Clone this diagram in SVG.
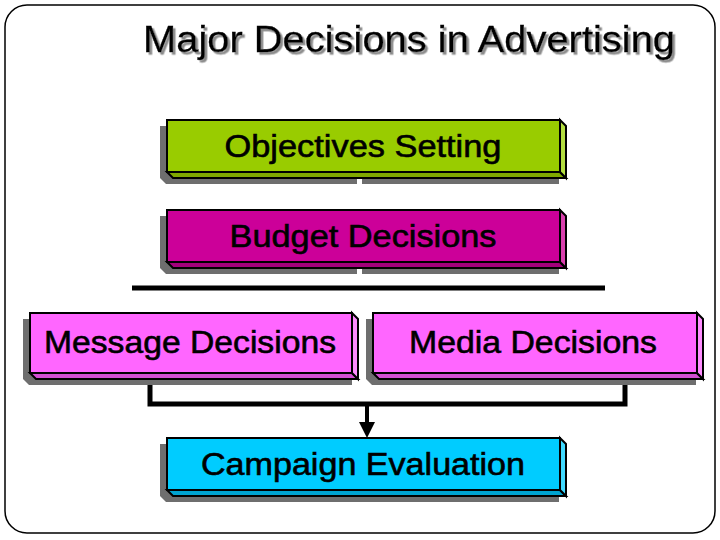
<svg xmlns="http://www.w3.org/2000/svg" width="720" height="540" viewBox="0 0 720 540">
<style>
.t{font-family:"Liberation Sans",Arial,sans-serif;fill:#000;text-anchor:middle;stroke:#000;stroke-width:0.6;lengthAdjust:spacingAndGlyphs}
.sh{fill:#6e6e6e}
.f{stroke:#000;stroke-width:2;stroke-linejoin:miter}
.gap{fill:#fff}
</style>
<defs>
<filter id="ds" x="-5%" y="-20%" width="110%" height="150%">
<feDropShadow dx="2.5" dy="2.5" stdDeviation="0.6" flood-color="#8c8c8c" flood-opacity="1"/>
</filter>
</defs>
<rect x="5" y="5" width="710" height="528" rx="22" fill="#fff" stroke="#000" stroke-width="1.5"/>
<g id="title">
<text class="t" x="409" y="52" font-size="36" textLength="532" lengthAdjust="spacingAndGlyphs" filter="url(#ds)" style="stroke-width:0.3">Major Decisions in Advertising</text>
</g>
<g id="objectives">
<polygon class="sh" points="160,126 553,126 559,132 559,184 166,184 160,178"/>
<rect class="gap" x="357" y="179" width="5" height="6"/>
<rect class="f" x="167" y="120" width="393" height="52" fill="#99CC00"/>
<polygon class="f" points="167,172 560,172 566,178 173,178" fill="#7fa800"/>
<polygon class="f" points="560,120 566,126 566,178 560,172" fill="#b3dd40"/>
<text class="t" x="363" y="157" font-size="31" textLength="277" lengthAdjust="spacingAndGlyphs">Objectives Setting</text>
</g>
<g id="budget">
<polygon class="sh" points="160,216 553,216 559,222 559,274 166,274 160,268"/>
<rect class="gap" x="357" y="269" width="5" height="6"/>
<rect class="f" x="167" y="210" width="393" height="52" fill="#CC0099"/>
<polygon class="f" points="167,262 560,262 566,268 173,268" fill="#a3007a"/>
<polygon class="f" points="560,210 566,216 566,268 560,262" fill="#d940ad"/>
<text class="t" x="363" y="247" font-size="31" textLength="267" lengthAdjust="spacingAndGlyphs">Budget Decisions</text>
</g>
<g id="message">
<polygon class="sh" points="23,319 346,319 352,325 352,385 29,385 23,379"/>
<rect class="f" x="30" y="313" width="322" height="60" fill="#FF66FF"/>
<polygon class="f" points="30,373 352,373 358,379 36,379" fill="#d24fd2"/>
<polygon class="f" points="352,313 358,319 358,379 352,373" fill="#ff8cff"/>
<text class="t" x="190" y="353" font-size="31" textLength="292" lengthAdjust="spacingAndGlyphs">Message Decisions</text>
</g>
<g id="media">
<polygon class="sh" points="366,319 690,319 696,325 696,385 372,385 366,379"/>
<rect class="f" x="373" y="313" width="324" height="60" fill="#FF66FF"/>
<polygon class="f" points="373,373 697,373 703,379 379,379" fill="#d24fd2"/>
<polygon class="f" points="697,313 703,319 703,379 697,373" fill="#ff8cff"/>
<text class="t" x="533" y="353" font-size="31" textLength="248" lengthAdjust="spacingAndGlyphs">Media Decisions</text>
</g>
<g id="campaign">
<polygon class="sh" points="160,444 553,444 559,450 559,502 166,502 160,496"/>
<rect class="f" x="167" y="438" width="393" height="52" fill="#00CCFF"/>
<polygon class="f" points="167,490 560,490 566,496 173,496" fill="#00a3d0"/>
<polygon class="f" points="560,438 566,444 566,496 560,490" fill="#40d9ff"/>
<text class="t" x="363" y="475" font-size="31" textLength="324" lengthAdjust="spacingAndGlyphs">Campaign Evaluation</text>
</g>
<g id="connectors" stroke="#000" fill="none">
<line x1="132" y1="288" x2="605" y2="288" stroke-width="5"/>
<polyline points="150,385 150,404 625,404 625,385" stroke-width="5" stroke-linejoin="miter"/>
<line x1="367" y1="404" x2="367" y2="424" stroke-width="4"/>
<polygon points="359,422 375,422 367,438" fill="#000" stroke="none"/>
</g>
</svg>
